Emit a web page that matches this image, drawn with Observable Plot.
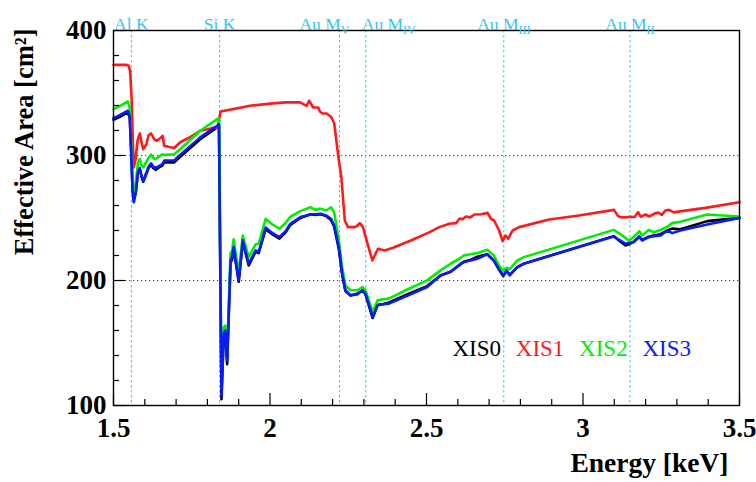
<!DOCTYPE html>
<html>
<head>
<meta charset="utf-8">
<script src="https://cdn.jsdelivr.net/npm/d3@7"></script>
<script src="https://cdn.jsdelivr.net/npm/@observablehq/plot@0.6"></script>
<style>
  html, body { margin: 0; padding: 0; background: #fff; }
</style>
</head>
<body>
<div id="chart"></div>
<script>
// ---- Data ----
const seriesNames = ["XIS0", "XIS1", "XIS2", "XIS3"];
const seriesColors = ["#000000", "#ff1a1a", "#00ee00", "#0a1aff"];

// Front-illuminated sensors (XIS0, XIS2, XIS3) share one energy grid
const eFI = [1.500,1.520,1.546,1.552,1.557,1.561,1.565,1.572,1.578,1.584,
             1.590,1.595,1.603,1.612,1.620,1.627,1.634,1.645,1.656,1.662,
             1.694,1.713,1.777,1.831,1.837,1.840,1.845,1.852,1.857,1.863,
             1.874,1.879,1.884,1.900,1.913,1.932,1.954,1.964,1.986,2.007,
             2.030,2.050,2.065,2.097,2.129,2.145,2.161,2.180,2.195,2.205,
             2.220,2.231,2.241,2.257,2.279,2.295,2.305,2.328,2.344,2.360,
             2.380,2.440,2.502,2.545,2.577,2.609,2.619,2.641,2.662,2.694,
             2.715,2.731,2.745,2.756,2.766,2.790,2.811,3.098,3.120,3.136,
             3.146,3.162,3.180,3.189,3.210,3.226,3.248,3.269,3.285,3.311,
             3.397,3.500];
const xis0 = [328.5,331.0,334.5,330.0,300.0,272.0,264.0,272.0,287.0,289.0,
              283.0,279.0,284.0,290.0,292.5,290.0,288.5,290.5,292.0,294.5,
              294.5,299.0,313.0,322.5,324.0,240.0,105.0,155.0,158.0,133.0,
              214.0,217.0,225.0,199.0,231.0,212.0,223.0,222.0,241.0,237.0,
              233.5,238.5,244.5,250.0,253.0,252.5,253.0,251.5,248.5,243.0,
              225.0,204.0,191.5,188.0,189.0,192.0,189.0,170.0,180.5,181.0,
              182.5,189.0,195.5,204.0,207.0,213.0,215.0,216.5,219.0,221.0,
              216.0,209.0,203.5,207.5,204.5,210.5,213.5,235.5,231.0,228.0,
              229.0,231.0,235.0,232.5,235.0,236.0,237.0,240.0,241.5,241.0,
              247.5,250.1];
const xis2 = [337.1,339.5,343.2,338.0,305.0,278.0,270.0,280.0,294.0,297.2,
              292.0,290.5,294.0,298.0,300.7,298.0,297.0,299.0,301.0,300.5,
              301.0,305.0,319.8,329.1,330.0,250.0,120.0,162.0,164.0,142.0,
              222.0,224.0,233.0,206.0,236.0,218.7,229.0,229.4,249.4,245.0,
              241.4,246.0,251.0,255.5,258.6,256.5,257.5,256.0,258.6,254.6,
              232.0,210.0,196.0,192.2,192.2,194.8,192.2,174.9,184.2,185.0,
              185.5,193.0,200.1,208.1,213.4,218.0,220.1,221.0,221.9,224.6,
              220.1,212.1,208.1,210.2,209.0,216.1,218.7,240.5,237.0,234.0,
              232.0,234.7,239.5,236.0,240.5,238.6,240.5,243.0,245.9,247.0,
              252.8,251.2];
const xis3 = [329.9,332.3,335.8,331.0,300.0,272.0,262.6,272.0,287.0,290.0,
              283.0,279.4,285.0,291.0,293.8,291.0,290.0,291.5,293.0,296.0,
              296.0,300.5,314.5,323.8,325.0,240.0,107.0,157.6,160.0,136.3,
              216.1,219.0,226.8,200.1,232.1,213.4,224.1,223.0,242.3,238.0,
              234.7,239.5,245.4,250.7,252.8,253.0,253.4,252.0,249.4,244.0,
              226.8,205.0,192.2,188.2,189.5,192.2,189.5,170.9,180.2,181.0,
              181.5,188.0,194.8,204.1,207.0,213.4,214.5,216.1,217.4,220.9,
              216.1,209.5,204.1,208.1,204.1,210.8,213.4,235.2,232.0,229.4,
              230.0,230.7,235.2,232.0,234.7,235.5,236.0,240.0,237.9,240.0,
              244.8,250.1];

// Back-illuminated sensor (XIS1)
const eBI = [1.500,1.540,1.548,1.553,1.558,1.562,1.565,1.570,1.577,1.584,
             1.590,1.595,1.605,1.612,1.620,1.630,1.639,1.650,1.657,1.662,
             1.675,1.694,1.713,1.740,1.777,1.800,1.825,1.834,1.838,1.842,
             1.880,1.936,2.000,2.050,2.096,2.106,2.117,2.125,2.138,2.154,
             2.160,2.168,2.181,2.195,2.205,2.212,2.220,2.228,2.239,2.249,
             2.271,2.280,2.287,2.297,2.312,2.327,2.345,2.366,2.393,2.450,
             2.510,2.541,2.573,2.595,2.605,2.615,2.626,2.640,2.653,2.675,
             2.695,2.706,2.716,2.732,2.743,2.752,2.761,2.775,2.796,2.892,
             2.987,3.099,3.112,3.120,3.135,3.150,3.165,3.176,3.184,3.200,
             3.212,3.228,3.240,3.252,3.263,3.275,3.290,3.310,3.391,3.500];
const xis1 = [372.5,372.5,372.0,368.0,345.0,310.0,290.5,296.0,312.0,317.7,
              310.0,305.0,309.0,316.0,317.7,313.0,311.8,314.0,315.6,307.8,
              307.0,306.0,310.6,314.0,319.8,321.0,322.5,322.0,330.0,335.2,
              337.0,339.8,341.5,342.5,342.6,341.1,339.8,343.8,338.4,338.4,
              335.0,333.6,333.6,331.0,326.0,311.8,296.0,282.6,248.0,242.7,
              242.7,244.0,245.9,242.7,229.0,216.1,225.4,224.0,226.2,232.0,
              238.7,242.7,245.4,245.9,249.5,249.0,251.2,250.5,252.8,253.0,
              254.1,249.4,248.0,240.0,231.5,236.0,233.4,240.0,242.7,248.8,
              252.0,256.5,251.5,250.7,250.5,251.0,250.8,254.7,251.0,252.8,
              251.2,253.5,254.3,252.5,256.0,256.5,254.5,255.3,258.1,262.6];

// Absorption edges
const edgeEnergy = [1.557, 1.839, 2.222, 2.306, 2.747, 3.150];
const edgeLabel = ["Al K", "Si K", "Au M_V", "Au M_IV", "Au M_III", "Au M_II"];

// Axis ticks
const xTicks = [1.5, 2, 2.5, 3, 3.5];
const xMinor = [1.6,1.7,1.8,1.9,2.1,2.2,2.3,2.4,2.6,2.7,2.8,2.9,3.1,3.2,3.3,3.4];
const yTicks = [100, 200, 300, 400];
const yMinor = [120,140,160,180,220,240,260,280,320,340,360,380];
const yGrid = [200, 300, 400];

// ---- Build tidy rows ----
const rows = [];
eFI.forEach((e, i) => rows.push({s: "XIS0", e, a: xis0[i]}));
eBI.forEach((e, i) => rows.push({s: "XIS1", e, a: xis1[i]}));
eFI.forEach((e, i) => rows.push({s: "XIS2", e, a: xis2[i]}));
eFI.forEach((e, i) => rows.push({s: "XIS3", e, a: xis3[i]}));

const cyan = "#2fc6f2";
const labelShift = [0, 0, -15, 23, 0, 0];

const chart = Plot.plot({
  width: 756,
  height: 482,
  marginLeft: 113,
  marginRight: 17,
  marginTop: 30,
  marginBottom: 77,
  style: {fontFamily: "'Liberation Serif', 'Times New Roman', serif", background: "#fff", color: "#000"},
  x: {domain: [1.5, 3.5], label: null},
  y: {domain: [100, 400], label: null},
  color: {domain: seriesNames, range: seriesColors},
  marks: [
    Plot.ruleY(yGrid, {stroke: "#444", strokeWidth: 1, strokeDasharray: "1.2,2.8"}),
    Plot.ruleX(edgeEnergy, {stroke: cyan, strokeWidth: 1, strokeDasharray: "2.5,2.5"}),
    Plot.line(rows, {x: "e", y: "a", z: "s", stroke: "s", strokeWidth: 2.6, curve: "linear"}),
    Plot.frame({stroke: "#000", strokeWidth: 1.4}),
    // y axis labels and inner ticks
    Plot.axisY({ticks: yTicks, tickSize: 0, tickPadding: 7, fontSize: 27, fontWeight: "bold", tickFormat: d => String(d)}),
    Plot.axisY({ticks: yTicks, tickSize: -12, tickFormat: () => "", strokeWidth: 1.2}),
    Plot.axisY({ticks: yMinor, tickSize: -6, tickFormat: () => "", strokeWidth: 1.2}),
    // x axis labels and inner ticks
    Plot.axisX({ticks: xTicks, tickSize: 0, tickPadding: 12, fontSize: 27, fontWeight: "bold", tickFormat: d3.format("~g")}),
    Plot.axisX({ticks: xTicks, tickSize: -12, tickFormat: () => "", strokeWidth: 1.2}),
    Plot.axisX({ticks: xMinor, tickSize: -6, tickFormat: () => "", strokeWidth: 1.2}),
    // axis titles
    Plot.text(["Effective Area [cm²]"], {frameAnchor: "top-left", rotate: -90, textAnchor: "end", dx: -99, dy: -2, fontSize: 26.5, fontWeight: "bold", fill: "#000"}),
    Plot.text(["Energy [keV]"], {frameAnchor: "bottom-right", textAnchor: "end", dx: -11, dy: 66, fontSize: 27.5, fontWeight: "bold", fill: "#000"}),
    // edge labels
    ...edgeEnergy.map((e, i) => Plot.text([edgeLabel[i]], {x: () => e, frameAnchor: "top", dy: -13, dx: labelShift[i], fontSize: 17.5, fill: cyan, textAnchor: "middle"})),
    // legend
    ...seriesNames.map((n, i) => Plot.text([n], {frameAnchor: "top-left", textAnchor: "start", dx: 339 + i * 63.3, dy: 309, fontSize: 23, fill: seriesColors[i]}))
  ]
});

// subscripts for edge labels
const ns = "http://www.w3.org/2000/svg";
chart.querySelectorAll("text").forEach(t => {
  if (t.children.length === 0 && t.textContent.includes("_")) {
    const [a, b] = t.textContent.split("_");
    t.textContent = a;
    const ts = document.createElementNS(ns, "tspan");
    ts.setAttribute("font-size", "12");
    ts.setAttribute("dy", "4");
    ts.textContent = b;
    t.appendChild(ts);
  }
});

document.getElementById("chart").appendChild(chart);
</script>
</body>
</html>
